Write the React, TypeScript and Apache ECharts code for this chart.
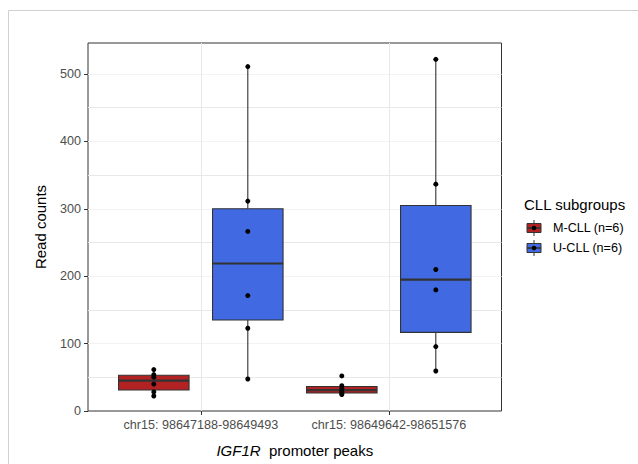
import React, { useEffect, useRef } from 'react';
import * as echarts from 'echarts';

const categories = ['chr15: 98647188-98649493', 'chr15: 98649642-98651576'];
const groupNames = ['M-CLL (n=6)', 'U-CLL (n=6)'];
const groupColors = ['#B22222', '#4169E1'];
// read counts per peak (one array per category)
const mcllCounts = [
  [22.3, 28.3, 40, 50.2, 53.9, 61.5],
  [24.5, 26, 29, 33, 37.5, 52],
];
const ucllCounts = [
  [47.5, 122.8, 171.3, 266.4, 311.4, 511],
  [59.4, 95.6, 179.7, 210, 336.6, 521.8],
];
const yTicks = [0, 100, 200, 300, 400, 500];
const yMin = 0;
const yMax = 546;

const FONT = 'Liberation Sans, Arial, Helvetica, sans-serif';
const TICK_FONT = 12.6;

function quantile(sorted: number[], p: number) {
  const h = (sorted.length - 1) * p;
  const lo = Math.floor(h);
  const hi = Math.ceil(h);
  return sorted[lo] + (h - lo) * (sorted[hi] - sorted[lo]);
}

function boxStats(values: number[]) {
  const s = [...values].sort((a, b) => a - b);
  const q1 = quantile(s, 0.25);
  const med = quantile(s, 0.5);
  const q3 = quantile(s, 0.75);
  const iqr = q3 - q1;
  const inside = s.filter((v) => v >= q1 - 1.5 * iqr && v <= q3 + 1.5 * iqr);
  return [inside[0], q1, med, q3, inside[inside.length - 1]];
}

const groupData = [mcllCounts, ucllCounts];
const dodge = [-0.25, 0.25];
const halfBox = 0.1875;

export default function App() {
  const ref = useRef<HTMLDivElement>(null);

  useEffect(() => {
    if (!ref.current) return;
    const chart = echarts.init(ref.current, null, { renderer: 'svg' });

    const boxSeries = groupData.map((counts, g) => ({
      type: 'custom',
      name: groupNames[g],
      xAxisIndex: 1,
      yAxisIndex: 2,
      z: 3,
      clip: false,
      silent: true,
      data: categories.map((_, c) => [c, ...boxStats(counts[c])]),
      renderItem: (params: any, api: any) => {
        const c = api.value(0);
        const step = api.coord([1, 0])[0] - api.coord([0, 0])[0];
        const cx = api.coord([c, 0])[0] + dodge[g] * step;
        const hw = halfBox * step;
        const yLow = api.coord([c, api.value(1)])[1];
        const yQ1 = api.coord([c, api.value(2)])[1];
        const yMed = api.coord([c, api.value(3)])[1];
        const yQ3 = api.coord([c, api.value(4)])[1];
        const yHigh = api.coord([c, api.value(5)])[1];
        const stroke = '#333333';
        return {
          type: 'group',
          children: [
            { type: 'line', shape: { x1: cx, y1: yQ3, x2: cx, y2: yHigh }, style: { stroke, lineWidth: 1.1 } },
            { type: 'line', shape: { x1: cx, y1: yQ1, x2: cx, y2: yLow }, style: { stroke, lineWidth: 1.1 } },
            {
              type: 'rect',
              shape: { x: cx - hw, y: yQ3, width: 2 * hw, height: yQ1 - yQ3 },
              style: { fill: groupColors[g], stroke, lineWidth: 1.1 },
            },
            { type: 'line', shape: { x1: cx - hw, y1: yMed, x2: cx + hw, y2: yMed }, style: { stroke, lineWidth: 2.2 } },
          ],
        };
      },
    }));

    const pointData: number[][] = [];
    groupData.forEach((counts, g) =>
      counts.forEach((vals, c) => vals.forEach((v) => pointData.push([c, v, g])))
    );

    const pointSeries = {
      type: 'custom',
      name: 'points',
      xAxisIndex: 1,
      yAxisIndex: 2,
      z: 4,
      clip: false,
      silent: true,
      data: pointData,
      renderItem: (params: any, api: any) => {
        const c = api.value(0);
        const g = api.value(2);
        const step = api.coord([1, 0])[0] - api.coord([0, 0])[0];
        const p = api.coord([c, api.value(1)]);
        return {
          type: 'circle',
          shape: { cx: p[0] + dodge[g] * step, cy: p[1], r: 2.5 },
          style: { fill: '#000000' },
        };
      },
    };

    const keyX = 534;
    const keyRows = [228, 248];
    const legendGraphics: any[] = [
      {
        type: 'text',
        x: 524,
        y: 204,
        style: { text: 'CLL subgroups', fontSize: 15, fill: '#000', fontFamily: FONT, verticalAlign: 'middle', align: 'left' },
      },
    ];
    groupNames.forEach((name, g) => {
      const y = keyRows[g];
      legendGraphics.push(
        { type: 'line', shape: { x1: keyX, y1: y - 8, x2: keyX, y2: y + 8 }, style: { stroke: '#333', lineWidth: 1 } },
        { type: 'rect', shape: { x: keyX - 7, y: y - 4.5, width: 14, height: 9 }, style: { fill: groupColors[g], stroke: '#333', lineWidth: 1 } },
        { type: 'line', shape: { x1: keyX - 7, y1: y, x2: keyX + 7, y2: y }, style: { stroke: '#333', lineWidth: 1.6 } },
        { type: 'circle', shape: { cx: keyX, cy: y, r: 2.3 }, style: { fill: '#000' } },
        {
          type: 'text',
          x: 553,
          y,
          style: { text: name, fontSize: TICK_FONT, fill: '#000', fontFamily: FONT, verticalAlign: 'middle', align: 'left' },
        }
      );
    });

    const gridTop = 43;
    const gridBottom = 53;

    chart.setOption({
      animation: false,
      backgroundColor: '#ffffff',
      textStyle: { fontFamily: FONT },
      grid: [
        {
          left: 88,
          right: 136.5,
          top: gridTop,
          bottom: gridBottom,
          show: true,
          borderColor: '#333333',
          borderWidth: 1,
          backgroundColor: 'transparent',
          containLabel: false,
        },
        {
          left: 200.8,
          width: 188,
          top: gridTop,
          bottom: gridBottom,
          containLabel: false,
        },
      ],
      xAxis: [
        {
          type: 'value',
          gridIndex: 0,
          min: 0,
          max: 1,
          show: false,
        },
        {
          type: 'category',
          gridIndex: 1,
          data: categories,
          boundaryGap: false,
          axisLine: { show: false },
          axisTick: { show: true, length: 4, lineStyle: { color: '#333333', width: 1 } },
          axisLabel: { show: true, interval: 0, margin: 7, color: '#4d4d4d', fontSize: TICK_FONT, fontFamily: FONT },
          splitLine: { show: true, lineStyle: { color: '#e8e8e8', width: 1 } },
        },
      ],
      yAxis: [
        {
          type: 'value',
          gridIndex: 0,
          min: yMin,
          max: yMax,
          interval: 50,
          axisLine: { show: false },
          axisTick: { show: false },
          axisLabel: { show: false },
          splitLine: {
            show: true,
            showMinLine: false,
            showMaxLine: false,
            lineStyle: { color: ['#e8e8e8', '#f3f3f3'], width: 1 },
          },
        },
        {
          type: 'value',
          gridIndex: 0,
          position: 'left',
          min: yMin,
          max: yMax,
          interval: 100,
          axisLine: { show: false },
          axisTick: { show: true, length: 4, customValues: yTicks, lineStyle: { color: '#333333', width: 1 } },
          axisLabel: {
            show: true,
            margin: 7,
            color: '#4d4d4d',
            fontSize: TICK_FONT,
            fontFamily: FONT,
            customValues: yTicks,
          },
          splitLine: { show: false },
        },
        {
          type: 'value',
          gridIndex: 1,
          min: yMin,
          max: yMax,
          show: false,
          splitLine: { show: false },
        },
      ],
      graphic: [
        {
          type: 'rect',
          silent: true,
          z: -10,
          shape: { x: 8.5, y: 10.5, width: 700, height: 600 },
          style: { fill: 'none', stroke: '#d0d0d0', lineWidth: 1 },
        },
        {
          type: 'text',
          x: 40,
          y: 227,
          rotation: Math.PI / 2,
          style: {
            text: 'Read counts',
            fontSize: 15,
            fill: '#000',
            fontFamily: FONT,
            align: 'center',
            verticalAlign: 'middle',
          },
        },
        {
          type: 'text',
          x: 294.8,
          y: 450,
          style: {
            text: '{i|IGF1R}  promoter peaks',
            fontSize: 15,
            fill: '#000',
            fontFamily: FONT,
            align: 'center',
            verticalAlign: 'middle',
            rich: {
              i: { fontStyle: 'italic', fontSize: 15, fill: '#000', fontFamily: FONT },
            },
          },
        },
        ...legendGraphics,
      ],
      series: [...boxSeries, pointSeries],
    });

    return () => chart.dispose();
  }, []);

  return (
    <div
      ref={ref}
      style={{ position: 'absolute', left: 0, top: 0, width: 638, height: 464, background: '#fff' }}
    />
  );
}
